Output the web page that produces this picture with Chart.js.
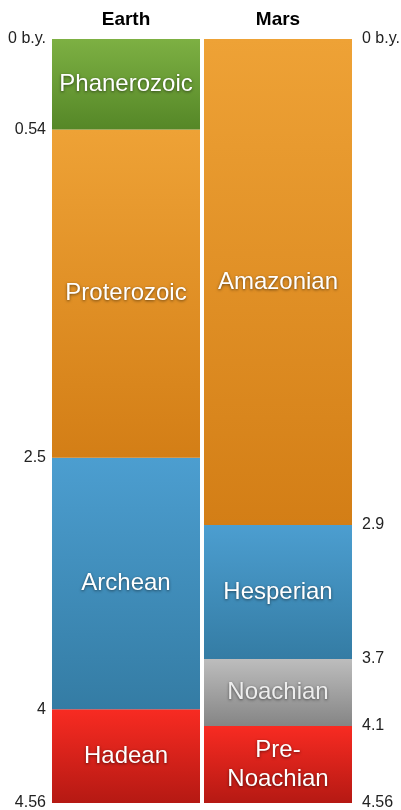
<!DOCTYPE html>
<html>
<head>
<meta charset="utf-8">
<script src="https://cdn.jsdelivr.net/npm/chart.js@4/dist/chart.umd.min.js"></script>
<style>
  html, body { margin: 0; padding: 0; background: #fff; }
  #wrap { width: 401px; height: 810px; position: relative; }
</style>
</head>
<body>
<div id="wrap"><canvas id="myChart"></canvas></div>
<script>
// Data
const columns = ['Earth', 'Mars'];
const earthEras = ['Phanerozoic', 'Proterozoic', 'Archean', 'Hadean'];
const earthBounds = [0, 0.54, 2.5, 4, 4.56];
const marsEras = ['Amazonian', 'Hesperian', 'Noachian', 'Pre-Noachian'];
const marsBounds = [0, 2.9, 3.7, 4.1, 4.56];

// colours, top -> bottom of each block
const earthColors = [['#7db043', '#558727'], ['#eea236', '#d37e16'], ['#4c9ed0', '#347ca4'], ['#f82b22', '#b51913']];
const marsColors = [['#eea236', '#d37e16'], ['#4c9ed0', '#347ca4'], ['#bdbdbd', '#858585'], ['#f82b22', '#b51913']];

function grad(cols) {
    return function (c) {
        const y = c.chart.scales.y;
        if (c.type !== 'data' || !c.raw || !y) return cols[0];
        const y0 = y.getPixelForValue(c.raw[0]);
        const y1 = y.getPixelForValue(c.raw[1]);
        if (!isFinite(y0) || !isFinite(y1) || y0 === y1) return cols[0];
        const g = c.chart.ctx.createLinearGradient(0, y0, 0, y1);
        g.addColorStop(0, cols[0]);
        g.addColorStop(1, cols[1]);
        return g;
    };
}

const datasets = [];
earthEras.forEach((name, i) => {
    datasets.push({
        label: name,
        data: [[earthBounds[i], earthBounds[i + 1]], null],
        backgroundColor: grad(earthColors[i])
    });
});
marsEras.forEach((name, i) => {
    datasets.push({
        label: name,
        data: [null, [marsBounds[i], marsBounds[i + 1]]],
        backgroundColor: grad(marsColors[i])
    });
});

const fmt = v => v === 0 ? '0 b.y.' : String(v);

// era names inside the blocks
const eraLabels = {
    id: 'eraLabels',
    afterDatasetsDraw(chart) {
        const ctx = chart.ctx;
        ctx.save();
        ctx.font = '24px "Liberation Sans", Arial, sans-serif';
        ctx.textAlign = 'center';
        ctx.textBaseline = 'middle';
        ctx.shadowColor = 'rgba(0,0,0,0.55)';
        ctx.shadowBlur = 3;
        ctx.shadowOffsetY = 1;
        chart.data.datasets.forEach((ds, di) => {
            const meta = chart.getDatasetMeta(di);
            meta.data.forEach((el, i) => {
                if (!ds.data[i]) return;
                const p = el.getProps(['x', 'y', 'base', 'width'], true);
                const cy = (p.y + p.base) / 2;
                ctx.fillStyle = ds.label === 'Noachian' ? '#ededed' : '#ffffff';
                let lines = [ds.label];
                if (ctx.measureText(ds.label).width > p.width - 10 && ds.label.indexOf('-') > 0) {
                    const k = ds.label.indexOf('-') + 1;
                    lines = [ds.label.slice(0, k), ds.label.slice(k)];
                }
                const lh = 29;
                lines.forEach((t, j) => {
                    ctx.fillText(t, p.x, cy + (j - (lines.length - 1) / 2) * lh);
                });
            });
        });
        ctx.restore();
    }
};

function fitSide(w) {
    return s => {
        s.width = w;
        s.paddingTop = 0;
        s.paddingBottom = 0;
    };
}

window.onload = function () {
    const ctx = document.getElementById('myChart');
    new Chart(ctx, {
        type: 'bar',
        data: { labels: columns, datasets: datasets },
        options: {
            responsive: true,
            maintainAspectRatio: false,
            animation: false,
            layout: { autoPadding: false, padding: { top: 0, bottom: 7, left: 0, right: 0 } },
            datasets: {
                bar: {
                    grouped: false,
                    barPercentage: 0.9737,
                    categoryPercentage: 1,
                    borderWidth: 0
                }
            },
            plugins: {
                legend: { display: false },
                tooltip: { enabled: false }
            },
            scales: {
                x: {
                    position: 'top',
                    grid: { display: false, drawTicks: false },
                    border: { display: false },
                    ticks: {
                        color: '#000',
                        padding: 8,
                        font: { family: '"Liberation Sans", Arial, sans-serif', size: 19, weight: 'bold' }
                    },
                    afterFit: s => { s.height = 39; }
                },
                y: {
                    position: 'left',
                    reverse: true,
                    min: 0,
                    max: 4.56,
                    grid: { display: false, drawTicks: false },
                    border: { display: false },
                    afterBuildTicks: s => { s.ticks = earthBounds.map(v => ({ value: v })); },
                    ticks: {
                        autoSkip: false,
                        color: '#222',
                        padding: 4,
                        font: { family: '"Liberation Sans", Arial, sans-serif', size: 16 },
                        callback: v => fmt(v)
                    },
                    afterFit: fitSide(50)
                },
                y2: {
                    position: 'right',
                    reverse: true,
                    min: 0,
                    max: 4.56,
                    grid: { display: false, drawTicks: false },
                    border: { display: false },
                    afterBuildTicks: s => { s.ticks = marsBounds.map(v => ({ value: v })); },
                    ticks: {
                        autoSkip: false,
                        color: '#222',
                        padding: 8,
                        font: { family: '"Liberation Sans", Arial, sans-serif', size: 16 },
                        callback: v => fmt(v)
                    },
                    afterFit: fitSide(47)
                }
            }
        },
        plugins: [eraLabels]
    });
};
</script>
</body>
</html>
